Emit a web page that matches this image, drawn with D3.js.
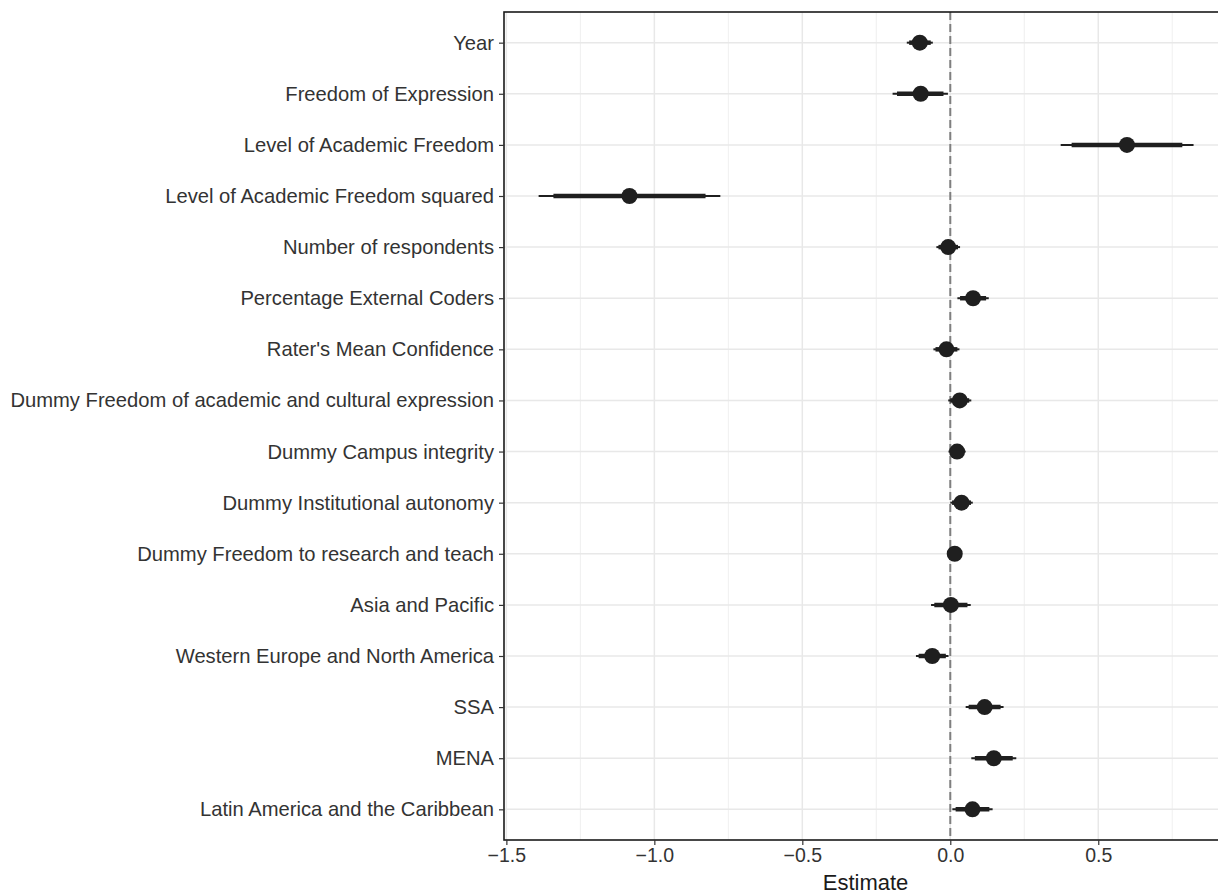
<!DOCTYPE html>
<html>
<head>
<meta charset="utf-8">
<script src="https://cdn.jsdelivr.net/npm/d3@7"></script>
<style>
  body { margin: 0; background: #fff; }
  text { font-family: "Liberation Sans", Arial, sans-serif; }
</style>
</head>
<body>
<script>
var w = 1218;
var h = 896;

var terms = ['Year', 'Freedom of Expression', 'Level of Academic Freedom',
  'Level of Academic Freedom squared', 'Number of respondents',
  'Percentage External Coders', "Rater's Mean Confidence",
  'Dummy Freedom of academic and cultural expression', 'Dummy Campus integrity',
  'Dummy Institutional autonomy', 'Dummy Freedom to research and teach',
  'Asia and Pacific', 'Western Europe and North America', 'SSA', 'MENA',
  'Latin America and the Caribbean'];
var estimates = [-0.103, -0.10, 0.597, -1.084, -0.007, 0.077, -0.013, 0.032, 0.023, 0.038, 0.015, 0.002, -0.061, 0.116, 0.147, 0.075];
var low95 = [-0.147, -0.195, 0.373, -1.391, -0.047, 0.024, -0.057, -0.007, -0.006, 0.000, -0.005, -0.065, -0.116, 0.052, 0.071, 0.007];
var high95 = [-0.059, -0.008, 0.822, -0.777, 0.033, 0.130, 0.031, 0.071, 0.052, 0.076, 0.035, 0.069, -0.006, 0.180, 0.223, 0.143];
var low90 = [-0.139, -0.180, 0.410, -1.341, -0.040, 0.033, -0.050, 0.000, -0.001, 0.006, -0.002, -0.054, -0.107, 0.062, 0.083, 0.018];
var high90 = [-0.066, -0.023, 0.784, -0.827, 0.026, 0.121, 0.024, 0.064, 0.047, 0.070, 0.032, 0.058, -0.015, 0.170, 0.211, 0.132];
var majorTicks = [-1.5, -1.0, -0.5, 0.0, 0.5];
var minorTicks = [-1.25, -0.75, -0.25, 0.25, 0.75];

var data = terms.map(function(t, i){
  return {term: t, est: estimates[i], lo95: low95[i], hi95: high95[i], lo90: low90[i], hi90: high90[i]};
});

// panel edges (right edge runs past the picture, as in the original)
var pLeft = 504, pRight = 1227, pTop = 12, pBottom = 840;

var svg = d3.select('body').append('svg')
    .attr('width', w)
    .attr('height', h);

var x = d3.scaleLinear().domain([-1.508, 0.935]).range([pLeft, pRight]);
var y = d3.scalePoint().domain(terms).range([pTop, pBottom]).padding(0.6);

// grid
svg.append('g').selectAll('line').data(minorTicks).enter().append('line')
    .attr('x1', function(d){ return x(d); })
    .attr('x2', function(d){ return x(d); })
    .attr('y1', pTop).attr('y2', pBottom)
    .attr('stroke', '#ebebeb').attr('stroke-width', 0.8);
svg.append('g').selectAll('line').data(majorTicks).enter().append('line')
    .attr('x1', function(d){ return x(d); })
    .attr('x2', function(d){ return x(d); })
    .attr('y1', pTop).attr('y2', pBottom)
    .attr('stroke', '#e8e8e8').attr('stroke-width', 1.5);
svg.append('g').selectAll('line').data(terms).enter().append('line')
    .attr('x1', pLeft).attr('x2', pRight)
    .attr('y1', function(d){ return y(d); })
    .attr('y2', function(d){ return y(d); })
    .attr('stroke', '#e8e8e8').attr('stroke-width', 1.5);

// zero line
svg.append('line')
    .attr('x1', x(0)).attr('x2', x(0))
    .attr('y1', pTop).attr('y2', pBottom)
    .attr('stroke', '#7f7f7f').attr('stroke-width', 2)
    .attr('stroke-dasharray', '8,4');

// intervals: thin = 95%, thick = 90%
var g = svg.append('g');
g.selectAll('.ci95').data(data).enter().append('line')
    .attr('class', 'ci95')
    .attr('x1', function(d){ return x(d.lo95); })
    .attr('x2', function(d){ return x(d.hi95); })
    .attr('y1', function(d){ return y(d.term); })
    .attr('y2', function(d){ return y(d.term); })
    .attr('stroke', '#1f1f1f').attr('stroke-width', 2);
g.selectAll('.ci90').data(data).enter().append('line')
    .attr('class', 'ci90')
    .attr('x1', function(d){ return x(d.lo90); })
    .attr('x2', function(d){ return x(d.hi90); })
    .attr('y1', function(d){ return y(d.term); })
    .attr('y2', function(d){ return y(d.term); })
    .attr('stroke', '#1f1f1f').attr('stroke-width', 4.5);
g.selectAll('circle').data(data).enter().append('circle')
    .attr('cx', function(d){ return x(d.est); })
    .attr('cy', function(d){ return y(d.term); })
    .attr('r', 8)
    .attr('fill', '#1f1f1f');

// panel border
svg.append('rect')
    .attr('x', pLeft).attr('y', pTop)
    .attr('width', pRight - pLeft).attr('height', pBottom - pTop)
    .attr('fill', 'none').attr('stroke', '#1a1a1a').attr('stroke-width', 1.6);

// axes
var xAxis = svg.append('g')
    .attr('transform', 'translate(0,' + pBottom + ')')
    .call(d3.axisBottom(x).tickValues(majorTicks).tickSize(5).tickPadding(3)
      .tickFormat(d3.format('.1f')));
xAxis.select('.domain').remove();
xAxis.selectAll('line').attr('stroke', '#333').attr('stroke-width', 1.2);
xAxis.selectAll('text').attr('font-size', '19.5px').attr('fill', '#333')
    .style('font-family', '"Liberation Sans", Arial, sans-serif');

var yAxis = svg.append('g')
    .attr('transform', 'translate(' + pLeft + ',0)')
    .call(d3.axisLeft(y).tickSize(5).tickPadding(5));
yAxis.select('.domain').remove();
yAxis.selectAll('line').attr('stroke', '#333').attr('stroke-width', 1.2);
yAxis.selectAll('text').attr('font-size', '20.2px').attr('fill', '#333')
    .style('font-family', '"Liberation Sans", Arial, sans-serif');

svg.append('text')
    .attr('x', (pLeft + pRight) / 2)
    .attr('y', 890)
    .attr('text-anchor', 'middle')
    .attr('font-size', '22px')
    .attr('fill', '#1a1a1a')
    .text('Estimate');
</script>
</body>
</html>
